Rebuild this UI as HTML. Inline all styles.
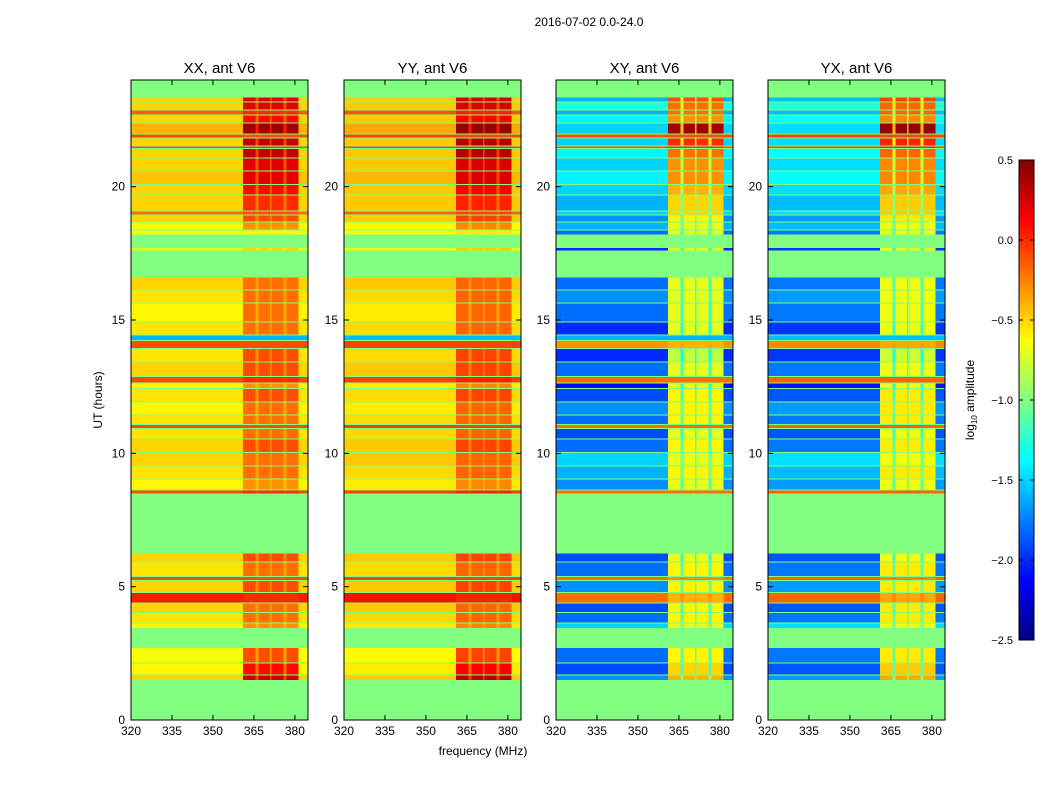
<!DOCTYPE html>
<html><head><meta charset="utf-8"><style>
body{margin:0;background:#fff;}
svg{font-family:"Liberation Sans",sans-serif;}
</style></head><body>
<svg id="fig" width="1050" height="800" xmlns="http://www.w3.org/2000/svg">
<rect width="1050" height="800" fill="#fff"/>
<text x="589" y="26" font-size="12" text-anchor="middle">2016-07-02 0.0-24.0</text>
<text x="483" y="755" font-size="12" text-anchor="middle">frequency (MHz)</text>
<text transform="translate(102,400) rotate(-90)" font-size="12" text-anchor="middle">UT (hours)</text>
<text transform="translate(974,400) rotate(-90)" font-size="12" text-anchor="middle">log<tspan font-size="8" dy="3">10</tspan><tspan dy="-3"> amplitude</tspan></text>
<g id="panels"></g>
<g id="cbar"></g>
</svg>
<script>
// time rows: [start hour, end hour]
const rowStart=[1.5,1.7,2.15,3.45,3.65,4.05,4.4,4.8,5.25,5.4,5.95,8.5,8.65,9.05,9.55,10.05,10.55,10.95,11.1,11.45,11.95,12.45,12.65,12.9,13.45,13.95,14.25,14.45,14.95,15.65,16.15,17.6,18.2,18.4,18.7,18.95,19.1,19.7,20.1,20.6,21.1,21.45,21.55,21.85,22.0,22.4,22.7,22.9,23.2];
const rowEnd=[1.66,2.11,2.7,3.61,4.01,4.36,4.76,5.21,5.36,5.91,6.25,8.61,9.01,9.51,10.01,10.51,10.91,11.06,11.41,11.91,12.41,12.61,12.86,13.41,13.91,14.21,14.41,14.91,15.61,16.11,16.6,17.7,18.36,18.66,18.91,19.06,19.66,20.06,20.56,21.06,21.41,21.51,21.81,21.96,22.36,22.66,22.86,23.16,23.35];
// log10 amplitudes: parallel hands base / hot band, cross hands base / hot band
const parBase=[-0.5,-0.6,-0.65,-0.6,-0.55,-0.5,0.05,-0.5,-0.1,-0.55,-0.5,-0.1,-0.6,-0.55,-0.5,-0.5,-0.55,-0.1,-0.55,-0.6,-0.55,-0.6,-0.1,-0.5,-0.55,-0.1,-1.6,-0.55,-0.6,-0.55,-0.5,-0.7,-0.65,-0.65,-0.5,-0.2,-0.5,-0.5,-0.45,-0.5,-0.5,-0.1,-0.5,-0.1,-0.4,-0.5,-0.15,-0.5,-0.5];
const parHot=[0.3,0.1,-0.1,-0.3,-0.2,-0.2,0.0,-0.1,-0.1,-0.2,-0.1,0.0,-0.3,-0.2,-0.2,-0.1,-0.2,-0.1,-0.2,-0.2,-0.1,-0.3,0.0,-0.1,-0.1,-0.1,-1.6,-0.2,-0.2,-0.2,-0.2,-0.5,-0.6,-0.3,-0.1,-0.1,0.0,0.1,0.2,0.2,0.3,0.0,0.3,-0.1,0.4,0.1,0.0,0.2,0.2];
const crossBase=[-1.7,-1.9,-1.8,-1.5,-1.8,-1.9,-0.2,-1.7,-0.2,-1.8,-1.9,-0.2,-1.7,-1.6,-1.5,-1.8,-1.9,-0.2,-1.8,-1.7,-1.9,-2.1,-0.2,-1.8,-2.0,-0.3,-1.6,-2.0,-1.8,-1.7,-1.8,-2.0,-1.8,-1.6,-1.7,-1.5,-1.6,-1.5,-1.4,-1.5,-1.4,-0.1,-1.5,-0.1,-1.5,-1.4,-1.6,-1.3,-1.6];
const crossHot=[-0.4,-0.5,-0.6,-0.7,-0.6,-0.6,-0.4,-0.6,-0.3,-0.6,-0.7,-0.2,-0.7,-0.6,-0.7,-0.6,-0.7,-0.2,-0.6,-0.6,-0.6,-0.7,-0.2,-0.7,-0.8,-0.4,-1.6,-0.7,-0.7,-0.7,-0.7,-0.7,-0.7,-0.7,-0.6,-0.5,-0.5,-0.4,-0.3,-0.3,-0.2,0.0,0.0,-0.1,0.4,-0.3,-0.2,-0.2,-0.1];
// frequency segments (MHz) and hot-band weight
const fStart=[320,361,365.5,366.7,370.8,371.5,375.9,377,381.4];
const fEnd=[361,365.5,366.7,370.8,371.5,375.9,377,381.4,384.8];
const fWeight=[0,1,0.55,1,0.55,1,0.55,1,0];
const panelTitles=["XX, ant V6","YY, ant V6","XY, ant V6","YX, ant V6"];
const yTicks=[0,5,10,15,20];
const xTicks=[320,335,350,365,380];
const cbTicks=[0.5,0.0,-0.5,-1.0,-1.5,-2.0,-2.5];

const NS="http://www.w3.org/2000/svg";
const panelX=[131,344,556,768], PW=177, PT=80, PB=720;
const vmin=-2.5,vmax=0.5;
function jet(v){let t=(v-vmin)/(vmax-vmin);t=Math.max(0,Math.min(1,t));
 const c=x=>Math.round(255*Math.max(0,Math.min(1,1.5-Math.abs(x))));
 return `rgb(${c(4*t-3)},${c(4*t-2)},${c(4*t-1)})`;}
function mk(tag,attrs,parent){const e=document.createElementNS(NS,tag);for(const k in attrs)e.setAttribute(k,attrs[k]);parent.appendChild(e);return e;}
const yScale=h=>PB-(h/24)*(PB-PT);
const xScale=(x0,f)=>x0+(f-320)/(384.8-320)*PW;
const root=document.getElementById('panels');
panelTitles.forEach((title,p)=>{
 const x0=panelX[p];
 const g=mk('g',{},root);
 
 
 const bg=mk('rect',{x:x0,y:PT,width:PW,height:PB-PT,fill:jet(-1.0)},g);
 
 
 const base=p<2?parBase:crossBase, hot=p<2?parHot:crossHot;
 const cells=mk('g',{'shape-rendering':'crispEdges'},g);
 
 
 for(let i=0;i<rowStart.length;i++){
  const y1=yScale(rowEnd[i]),y2=yScale(rowStart[i]);
  for(let j=0;j<fStart.length;j++){
   const shift=(p===1||p===3)?0.03:0;
   const v=base[i]+shift+fWeight[j]*(hot[i]-base[i]);
   const r=mk('rect',{x:xScale(x0,fStart[j]),y:y1,width:xScale(x0,fEnd[j])-xScale(x0,fStart[j])+0.3,height:y2-y1,fill:jet(v)},cells);
   
   
  }
 }
 const fr=mk('rect',{x:x0,y:PT,width:PW,height:PB-PT,fill:'none',stroke:'#000','stroke-width':1},g);
 
 
 const t=mk('text',{x:x0+PW/2,y:73,'font-size':15,'text-anchor':'middle'},g);t.textContent=title;
 
 
 yTicks.forEach(h=>{const y=yScale(h);
  mk('line',{x1:x0,x2:x0+5,y1:y,y2:y,stroke:'#000'},g);mk('line',{x1:x0+PW-5,x2:x0+PW,y1:y,y2:y,stroke:'#000'},g);
  const l=mk('text',{x:x0-6,y:y+4,'font-size':12,'text-anchor':'end'},g);l.textContent=h;
  
  });
 xTicks.forEach(f=>{const x=xScale(x0,f);
  mk('line',{x1:x,x2:x,y1:PB,y2:PB-5,stroke:'#000'},g);mk('line',{x1:x,x2:x,y1:PT,y2:PT+5,stroke:'#000'},g);
  const l=mk('text',{x:x,y:PB+15,'font-size':12,'text-anchor':'middle'},g);l.textContent=f;
  
  });
});
// colorbar
const cb=document.getElementById('cbar');


const CX=1019,CW=15,CT=160,CB=640;
const defs=mk('defs',{},cb);const gr=mk('linearGradient',{id:'jetg',x1:0,y1:1,x2:0,y2:0},defs);
for(let k=0;k<=16;k++){const v=vmin+(vmax-vmin)*k/16;mk('stop',{offset:k/16,'stop-color':jet(v)},gr);}
mk('rect',{x:CX,y:CT,width:CW,height:CB-CT,fill:'url(#jetg)',stroke:'#000'},cb);
cbTicks.forEach(v=>{const y=CB-(v-vmin)/(vmax-vmin)*(CB-CT);
 mk('line',{x1:CX+CW-4,x2:CX+CW,y1:y,y2:y,stroke:'#000'},cb);mk('line',{x1:CX,x2:CX+4,y1:y,y2:y,stroke:'#000'},cb);
 const l=mk('text',{x:1013,y:y+4,'font-size':11,'text-anchor':'end'},cb);l.textContent=(v<0?'\u2212'+Math.abs(v).toFixed(1):v.toFixed(1));
 
 });
</script>
</body></html>
